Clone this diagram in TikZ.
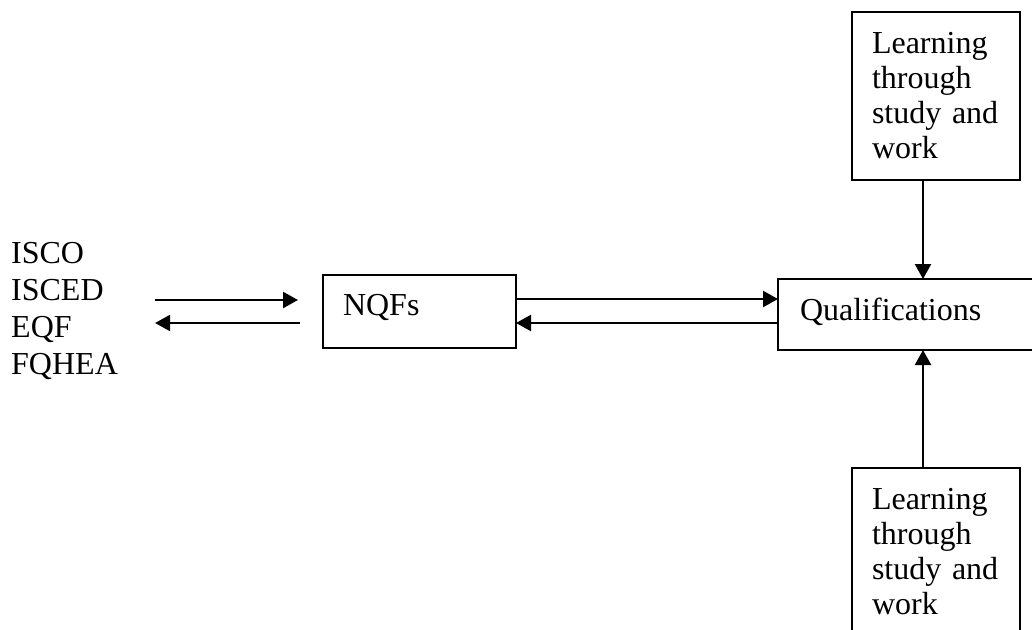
\documentclass[tikz,border=0pt]{standalone}
\usepackage{fontspec}
\setmainfont{Liberation Serif}
\usetikzlibrary{arrows.meta, positioning, calc}

\begin{document}
\begin{tikzpicture}[x=1pt, y=-1pt,
  box/.style={draw, line width=2.6pt, outer sep=0pt, inner ysep=0pt, align=left, font=\fontsize{32}{35}\selectfont},
  arr/.style={line width=2.2pt, -{Triangle[length=15pt, width=16pt]}}]
\clip (0,0) rectangle (1032,629);
% --- Left: classifications ---
\node[anchor=west, inner sep=0pt, align=left, font=\fontsize{32}{37}\selectfont] (classif) at (11,311) {ISCO\\ISCED\\EQF\\FQHEA};
% --- Boxes ---
\node[box, anchor=north west, inner xsep=20pt, text width=153pt, minimum height=73pt, text height=21pt, text depth=14pt] (nqf) at (323,275) {NQFs};
\node[box, anchor=north west, inner xsep=22pt, text width=236pt, minimum height=71pt, text height=22pt, text depth=11pt] (qual) at (778,279) {Qualifications};
\node[box, anchor=north west, inner xsep=20pt, text width=128pt, minimum height=168pt] (learnTop) at (852,12) {Learning\\through\\study and\\work};
\node[box, anchor=north west, inner xsep=20pt, text width=128pt, minimum height=168pt] (learnBot) at (852,468) {Learning\\through\\study and\\work};
% --- Arrows ---
\draw[arr, shorten >=25pt] ($(classif.east)+(37,-11)$) coordinate (a1) -- (a1 -| nqf.west);
\path ($(classif.east)+(37,12)$) coordinate (a2);
\draw[arr, shorten <=23pt] (a2 -| nqf.west) -- (a2);
\draw[arr] ($(nqf.east)+(0,-12.5)$) coordinate (m1) -- (m1 -| qual.west);
\path ($(nqf.east)+(0,11.5)$) coordinate (m2);
\draw[arr] (m2 -| qual.west) -- (m2);
\draw[arr] ($(learnTop.south)+(-13,0)$) coordinate (v1) -- (v1 |- qual.north);
\draw[arr] ($(learnBot.north)+(-13,0)$) coordinate (v2) -- (v2 |- qual.south);
\end{tikzpicture}
\end{document}
